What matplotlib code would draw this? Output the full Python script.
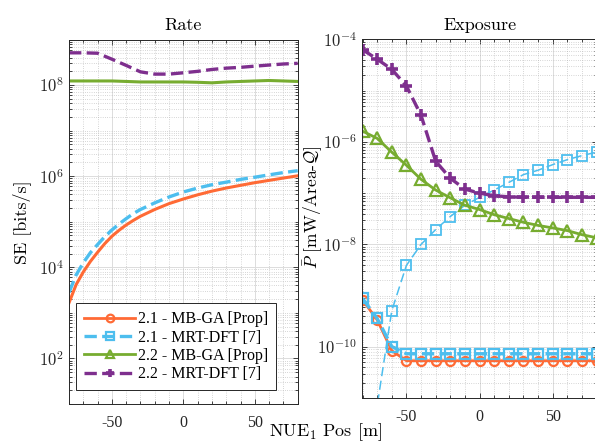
import numpy as np
import matplotlib
matplotlib.use("Agg")
import matplotlib.pyplot as plt
from matplotlib.ticker import FixedLocator, MultipleLocator, LogLocator, FuncFormatter, NullFormatter

plt.rcParams['mathtext.fontset'] = 'cm'
plt.rcParams['axes.unicode_minus'] = False

# ---- data -----------------------------------------------------------------
# Rate panel (spectral efficiency, bits/s)
pos_rate_21 = [-80, -75, -70, -65, -60, -55, -50, -45, -40, -35, -30,
               -20, -10, 0, 10, 20, 30, 40, 50, 60, 70, 80]
se_mbga_21 = [1.66e3, 4.17e3, 7.9e3, 1.35e4, 2.14e4, 3.3e4, 4.8e4, 6.5e4,
              8.5e4, 1.07e5, 1.32e5, 1.86e5, 2.5e5, 3.16e5, 3.9e5, 4.7e5,
              5.5e5, 6.3e5, 7.2e5, 8.1e5, 9.1e5, 1.02e6]
se_mrt_21 = [2.8e3, 6.8e3, 1.26e4, 2.1e4, 3.16e4, 4.7e4, 6.6e4, 8.9e4,
             1.17e5, 1.51e5, 1.86e5, 2.6e5, 3.5e5, 4.5e5, 5.5e5, 6.5e5,
             7.4e5, 8.5e5, 9.5e5, 1.07e6, 1.2e6, 1.32e6]

pos = [-80, -70, -60, -50, -40, -30, -20, -10, 0, 10, 20, 30, 40, 50, 60, 70, 80]
se_mbga_22 = [1.23e8, 1.23e8, 1.23e8, 1.23e8, 1.20e8, 1.17e8, 1.17e8, 1.17e8,
              1.17e8, 1.15e8, 1.12e8, 1.17e8, 1.20e8, 1.23e8, 1.26e8, 1.23e8, 1.20e8]
se_mrt_22 = [5.1e8, 5.1e8, 5.0e8, 3.7e8, 2.7e8, 1.95e8, 1.74e8, 1.74e8,
             1.86e8, 2.0e8, 2.2e8, 2.35e8, 2.45e8, 2.6e8, 2.75e8, 2.9e8, 3.0e8]

# Exposure panel (mean power, mW per area)
p_mbga_21 = [8.3e-10, 3.4e-10, 8.5e-11, 5.4e-11, 5.4e-11, 5.4e-11, 5.4e-11, 5.4e-11,
             5.4e-11, 5.4e-11, 5.4e-11, 5.4e-11, 5.4e-11, 5.4e-11, 5.4e-11, 5.4e-11, 5.4e-11]
p_mrt_21 = [8.9e-10, 3.6e-10, 1.02e-10, 7.4e-11, 7.4e-11, 7.4e-11, 7.4e-11, 7.4e-11,
            7.4e-11, 7.4e-11, 7.4e-11, 7.4e-11, 7.4e-11, 7.4e-11, 7.4e-11, 7.4e-11, 7.4e-11]
p_mrt_21_b = [1.6e-13, 7.1e-12, 5.1e-10, 3.9e-9, 1.0e-8, 1.95e-8, 3.5e-8, 5.8e-8,
              8.3e-8, 1.15e-7, 1.62e-7, 2.3e-7, 2.8e-7, 3.6e-7, 4.5e-7, 5.4e-7, 6.3e-7]
p_mbga_22 = [1.62e-6, 1.17e-6, 6.3e-7, 3.5e-7, 1.86e-7, 1.15e-7, 8.1e-8, 5.8e-8,
             4.8e-8, 3.8e-8, 3.2e-8, 2.7e-8, 2.35e-8, 2.1e-8, 1.86e-8, 1.55e-8, 1.35e-8]
p_mrt_22 = [6.3e-5, 4.1e-5, 2.6e-5, 1.23e-5, 3.3e-6, 4.2e-7, 1.95e-7, 1.2e-7,
            1.0e-7, 8.9e-8, 8.5e-8, 8.3e-8, 8.3e-8, 8.3e-8, 8.3e-8, 8.3e-8, 8.3e-8]

labels = ['2.1 - MB-GA [Prop]', '2.1 - MRT-DFT [7]',
          '2.2 - MB-GA [Prop]', '2.2 - MRT-DFT [7]']

# ---- styling --------------------------------------------------------------
C_OR = '#FF6A35'
C_BL = '#4DBEEE'
C_GR = '#77AC30'
C_PU = '#7E2F8E'
SERIF = 'Liberation Serif'

W, H = 595, 443
fig = plt.figure(figsize=(W / 100, H / 100), dpi=100)


def px_axes(x0, x1, ytop, ybot):
    return fig.add_axes([x0 / W, 1 - ybot / H, (x1 - x0) / W, (ybot - ytop) / H])


ax1 = px_axes(69, 297.7, 39.5, 404)
ax2 = px_axes(362.5, 596.6, 39.3, 398.3)


def log_label(v, _):
    e = int(round(np.log10(v)))
    return r'$10^{%d}$' % e


def style(ax, yticks):
    ax.set_yscale('log')
    ax.set_xlim(-80, 80)
    ax.xaxis.set_major_locator(FixedLocator([-50, 0, 50]))
    ax.xaxis.set_minor_locator(MultipleLocator(10))
    ax.yaxis.set_major_locator(FixedLocator(yticks))
    ax.yaxis.set_major_formatter(FuncFormatter(log_label))
    ax.yaxis.set_minor_locator(LogLocator(base=10, subs=np.arange(1, 10), numticks=50))
    ax.yaxis.set_minor_formatter(NullFormatter())
    ax.set_axisbelow(True)
    ax.grid(True, which='major', color='#dcdcdc', lw=0.7, ls='-')
    ax.grid(True, which='minor', color='#b0b0b0', lw=0.5, ls=(0, (1, 2.2)))
    ax.tick_params(which='both', direction='in', top=True, right=True,
                   colors='#262626', width=0.6)
    ax.tick_params(which='major', length=3.5)
    ax.tick_params(which='minor', length=2)
    ax.tick_params(axis='x', which='major', pad=8, labelsize=11.5)
    ax.tick_params(axis='y', which='major', pad=4, labelsize=12)
    for lab in ax.get_xticklabels():
        lab.set_fontfamily(SERIF)
    for s in ax.spines.values():
        s.set_color('#262626')
        s.set_linewidth(0.7)


# ---- Rate -----------------------------------------------------------------
ax1.plot(pos_rate_21, se_mbga_21, color=C_OR, lw=2.2)
ax1.plot(pos_rate_21, se_mrt_21, color=C_BL, lw=2.4, ls='--')
ax1.plot(pos, se_mbga_22, color=C_GR, lw=2.2)
ax1.plot(pos, se_mrt_22, color=C_PU, lw=2.4, ls='--')
ax1.set_ylim(1e1, 1e9)
style(ax1, [1e2, 1e4, 1e6, 1e8])
ax1.set_title('Rate', fontfamily='cmr10', fontsize=13, pad=7)
ax1.set_ylabel('SE [bits/s]', fontfamily='cmr10', fontsize=13)
ax1.yaxis.set_label_coords(-0.168, 0.5)

# ---- Exposure -------------------------------------------------------------
h1, = ax2.plot(pos, p_mbga_21, color=C_OR, lw=2.0, marker='o', ms=6.5,
               mfc='none', mec=C_OR, mew=1.6)
h2, = ax2.plot(pos, p_mrt_21, color=C_BL, lw=2.4, ls='--', marker='s', ms=6.5,
               mfc='none', mec=C_BL, mew=1.6)
ax2.plot(pos, p_mrt_21_b, color=C_BL, lw=1.1, ls=(0, (6, 3)), marker='s', ms=7,
         mfc='none', mec=C_BL, mew=1.3)
h3, = ax2.plot(pos, p_mbga_22, color=C_GR, lw=2.0, marker='^', ms=8,
               mfc='none', mec=C_GR, mew=1.6)
h4, = ax2.plot(pos, p_mrt_22, color=C_PU, lw=2.4, ls='--', marker='+', ms=8,
               mec=C_PU, mew=2.6)
ax2.set_ylim(1e-11, 1e-4)
style(ax2, [1e-10, 1e-8, 1e-6, 1e-4])
ax2.set_title('Exposure', fontfamily='cmr10', fontsize=13, pad=7)
ax2.set_ylabel(r'$\bar{P}$ [mW/Area-$\mathcal{Q}$]', fontfamily='cmr10', fontsize=12.5)
ax2.yaxis.set_label_coords(-0.162, 0.533)

# ---- legend (in the Rate panel) -------------------------------------------
leg = ax1.legend([h1, h2, h3, h4], labels, loc='lower left',
                 bbox_to_anchor=(0.031, 0.038), borderaxespad=0,
                 prop={'family': SERIF, 'size': 11.5}, fancybox=False,
                 framealpha=1, edgecolor='#262626', handlelength=3.2,
                 handletextpad=0.15, labelspacing=0.14, borderpad=0.5,
                 numpoints=1)
leg.get_frame().set_linewidth(0.7)
for lh in leg.get_lines():
    lh.set_markersize(5.5)

fig.text(325 / W, 1 - 432 / H, r'NUE$_1$ Pos [m]', fontfamily='cmr10',
         fontsize=13, ha='center', va='center')

fig.savefig('out.png', dpi=100)
